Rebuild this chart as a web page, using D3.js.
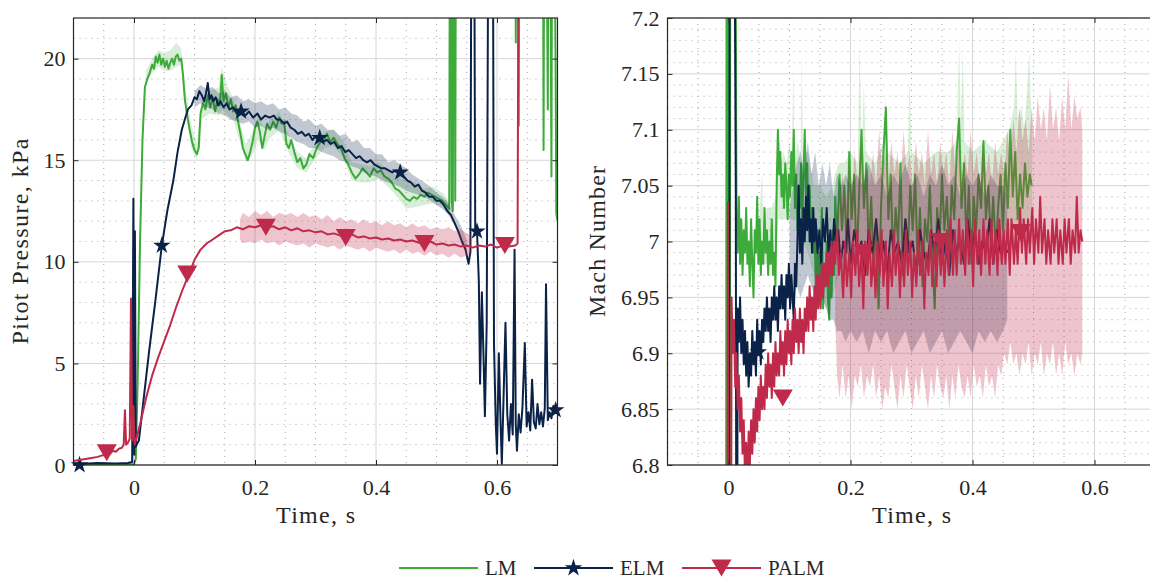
<!DOCTYPE html>
<html>
<head>
<meta charset="utf-8">
<script src="https://cdn.jsdelivr.net/npm/d3@7"></script>
<style>
  body { margin: 0; background: #fff; }
  svg { display: block; }
  svg text { font-family: "Liberation Serif", "Times New Roman", serif; fill: #262626; }
</style>
</head>
<body>
<svg id="chart" width="1150" height="581" font-family="Liberation Serif"></svg>
<script>
// ---- data (time in s) ----
const seriesNames = ['LM', 'ELM', 'PALM'];
const timeTicks = [0, 0.2, 0.4, 0.6];
const pitotTicks = [0, 5, 10, 15, 20];
const machTicks = [6.8, 6.85, 6.9, 6.95, 7, 7.05, 7.1, 7.15, 7.2];

// pitot pressure, kPa
const lmPitot = [[-0.1,0.02],[-0.05,0.02],[-0.01,0.03],[0.0,0.05],[0.003,0.3],[0.006,4],[0.010,11],[0.014,16],[0.018,18.6],[0.022,19.0],[0.026,19.3],[0.030,19.7],[0.033,19.5],[0.036,20.1],[0.039,19.8],[0.042,20.2],[0.045,19.7],[0.048,20.0],[0.051,19.6],[0.054,19.9],[0.057,19.5],[0.060,19.8],[0.063,20.0],[0.066,19.7],[0.069,20.1],[0.072,20.2],[0.075,19.9],[0.078,20.0],[0.081,19.2],[0.084,18.0],[0.088,17.2],[0.092,16.5],[0.096,15.9],[0.100,15.5],[0.104,15.3],[0.107,15.6],[0.110,17.3],[0.114,17.8],[0.118,17.5],[0.122,18.2],[0.126,17.6],[0.130,18.1],[0.134,17.4],[0.138,18.0],[0.142,17.7],[0.145,19.2],[0.148,17.9],[0.152,18.3],[0.156,17.6],[0.160,18.0],[0.164,17.4],[0.168,17.7],[0.172,16.9],[0.176,16.3],[0.180,15.6],[0.184,15.3],[0.188,15.0],[0.192,15.4],[0.196,15.9],[0.200,16.6],[0.204,16.9],[0.208,16.4],[0.212,15.6],[0.216,16.2],[0.220,16.8],[0.225,16.5],[0.230,16.9],[0.235,16.6],[0.240,17.1],[0.244,16.8],[0.248,16.9],[0.252,15.8],[0.256,15.6],[0.260,16.0],[0.265,15.4],[0.270,14.9],[0.275,15.1],[0.280,14.6],[0.285,14.8],[0.290,15.3],[0.296,15.1],[0.302,15.6],[0.308,15.9],[0.314,16.0],[0.319,16.3],[0.324,15.9],[0.330,16.1],[0.336,15.8],[0.342,15.6],[0.348,15.1],[0.354,14.8],[0.360,14.4],[0.366,14.1],[0.372,14.3],[0.378,14.6],[0.384,14.4],[0.390,14.2],[0.396,14.6],[0.402,14.4],[0.408,14.5],[0.414,14.2],[0.420,14.1],[0.426,13.9],[0.432,13.6],[0.438,13.5],[0.444,13.3],[0.450,13.1],[0.456,13.0],[0.462,13.2],[0.468,13.1],[0.474,13.3],[0.480,13.2],[0.486,13.4],[0.492,13.3],[0.498,13.2],[0.504,13.1],[0.510,13.0],[0.516,12.8],[0.521,12.6],[0.523,40],[0.525,12.9],[0.527,12.5],[0.529,40],[0.531,13.0],[0.533,40],[0.630,40],[0.631,20.8],[0.633,40],[0.636,16.7],[0.638,40],[0.675,40],[0.677,15.5],[0.679,40],[0.684,17.5],[0.686,40],[0.690,14.2],[0.692,40],[0.697,19],[0.698,12.4],[0.700,12.0]];
const lmPitotBand = [[0.02,18.8,19.4],[0.03,19.3,20.0],[0.04,19.6,20.4],[0.05,19.4,20.3],[0.06,19.4,20.4],[0.07,19.6,20.8],[0.078,19.7,20.5],[0.085,17.5,18.5],[0.095,15.6,16.7],[0.104,15.0,15.8],[0.112,17.0,18.0],[0.125,17.3,18.4],[0.14,17.2,18.6],[0.145,17.5,19.6],[0.155,17.2,18.6],[0.165,16.9,18.0],[0.175,15.9,16.9],[0.185,14.9,15.8],[0.195,15.2,16.3],[0.205,16.0,17.2],[0.215,15.5,16.6],[0.225,16.1,17.0],[0.24,16.5,17.4],[0.255,15.4,16.3],[0.27,14.6,15.4],[0.285,14.4,15.1],[0.30,15.1,15.9],[0.315,15.6,16.4],[0.33,15.7,16.5],[0.345,15.2,16.0],[0.36,14.0,14.9],[0.375,13.9,14.8],[0.39,13.9,14.7],[0.405,14.1,14.9],[0.42,13.7,14.5],[0.435,13.2,14.2],[0.45,12.6,14.0],[0.465,12.7,13.9],[0.48,12.8,13.6],[0.495,12.9,13.7],[0.51,12.7,13.4],[0.521,12.3,13.0]];

const elmPitot = [[-0.1,0.08],[-0.09,0.05],[-0.06,0.1],[-0.03,0.08],[-0.01,0.1],[-0.003,0.15],[-0.001,13.1],[0.0005,0.5],[0.0015,11.5],[0.003,0.9],[0.006,1.1],[0.008,1.2],[0.015,3.0],[0.025,5.6],[0.035,8.0],[0.046,10.8],[0.055,12.5],[0.065,14.0],[0.072,15.4],[0.079,16.5],[0.085,17.1],[0.089,17.5],[0.095,17.7],[0.1,18.1],[0.104,18.0],[0.108,18.4],[0.112,18.2],[0.116,17.9],[0.119,18.3],[0.122,18.8],[0.125,18.0],[0.128,18.2],[0.131,17.9],[0.135,18.1],[0.139,17.7],[0.143,17.9],[0.148,17.6],[0.153,17.8],[0.158,17.5],[0.164,17.6],[0.170,17.3],[0.177,17.4],[0.184,17.2],[0.19,17.4],[0.197,17.1],[0.204,17.3],[0.21,17.0],[0.217,17.2],[0.224,17.1],[0.231,17.2],[0.236,17.0],[0.242,17.0],[0.248,16.8],[0.253,16.9],[0.259,16.6],[0.265,16.5],[0.271,16.3],[0.277,16.4],[0.283,16.2],[0.289,16.3],[0.295,16.0],[0.301,16.2],[0.307,16.1],[0.313,15.9],[0.319,16.0],[0.325,15.8],[0.331,15.9],[0.337,15.6],[0.343,15.7],[0.349,15.4],[0.355,15.5],[0.361,15.3],[0.367,15.1],[0.373,15.2],[0.379,15.0],[0.385,14.9],[0.391,15.0],[0.397,14.8],[0.403,14.7],[0.409,14.6],[0.415,14.6],[0.421,14.5],[0.427,14.4],[0.433,14.5],[0.44,14.4],[0.446,14.2],[0.452,14.0],[0.458,13.9],[0.464,13.7],[0.470,13.8],[0.476,13.5],[0.482,13.4],[0.488,13.2],[0.494,13.2],[0.500,13.0],[0.506,13.0],[0.512,12.8],[0.518,12.5],[0.524,12.3],[0.530,11.9],[0.536,11.5],[0.542,11.0],[0.548,10.6],[0.553,9.9],[0.556,10.5],[0.558,30],[0.562,30],[0.564,11.5],[0.567,11.5],[0.570,9.0],[0.572,4.0],[0.575,8.5],[0.578,5.0],[0.580,2.4],[0.583,7.0],[0.586,30],[0.590,30],[0.593,30],[0.595,6.0],[0.598,2.0],[0.600,0.55],[0.603,5.5],[0.606,2.0],[0.608,0.06],[0.611,3.5],[0.614,7.0],[0.617,2.5],[0.620,1.2],[0.623,3.0],[0.626,1.5],[0.629,10.6],[0.631,2.0],[0.633,0.7],[0.636,2.5],[0.639,1.6],[0.642,2.8],[0.646,6.0],[0.649,1.9],[0.652,2.6],[0.655,1.7],[0.658,4.2],[0.661,2.1],[0.664,1.8],[0.667,3.0],[0.670,2.0],[0.673,2.6],[0.676,1.9],[0.679,2.8],[0.681,8.9],[0.684,2.2],[0.687,2.6],[0.690,2.3],[0.693,2.9],[0.697,2.7],[0.700,2.6]];
const elmPitotBand = [[0.1,17.6,18.4],[0.11,17.8,18.7],[0.12,17.6,18.5],[0.13,17.5,18.6],[0.14,17.3,18.3],[0.15,17.2,18.4],[0.16,17.0,18.1],[0.17,16.9,18.2],[0.18,16.8,17.9],[0.19,16.9,18.0],[0.2,16.6,17.8],[0.21,16.7,17.9],[0.22,16.5,17.7],[0.23,16.6,17.8],[0.24,16.4,17.5],[0.25,16.3,17.6],[0.26,16.1,17.3],[0.27,15.9,17.2],[0.28,15.8,16.9],[0.29,15.6,17.0],[0.3,15.6,16.7],[0.31,15.4,16.8],[0.32,15.3,16.5],[0.33,15.2,16.5],[0.34,15.0,16.2],[0.35,14.9,16.3],[0.36,14.7,15.9],[0.37,14.6,16.0],[0.38,14.4,15.6],[0.39,14.3,15.6],[0.40,14.2,15.3],[0.41,14.0,15.3],[0.42,13.9,14.9],[0.43,13.8,15.0],[0.44,13.7,14.8],[0.45,13.5,14.6],[0.46,13.4,14.3],[0.47,13.3,14.1],[0.48,13.2,13.9],[0.49,13.0,13.7],[0.50,12.8,13.4],[0.51,12.6,13.2],[0.52,12.3,12.9],[0.53,11.8,12.3],[0.54,11.1,11.8],[0.55,10.4,11.1]];

const palmPitot = [[-0.1,0.2],[-0.09,0.25],[-0.08,0.3],[-0.07,0.35],[-0.06,0.4],[-0.05,0.5],[-0.045,0.6],[-0.04,0.55],[-0.035,0.7],[-0.03,0.65],[-0.025,0.8],[-0.02,0.85],[-0.017,1.0],[-0.015,2.7],[-0.013,1.0],[-0.01,1.1],[-0.007,1.3],[-0.005,8.2],[-0.003,1.2],[-0.001,2.9],[0.001,1.0],[0.004,1.3],[0.01,2.0],[0.02,3.3],[0.03,4.4],[0.04,5.3],[0.05,6.1],[0.06,6.9],[0.07,7.8],[0.08,8.6],[0.088,9.2],[0.095,9.7],[0.1,10.1],[0.11,10.6],[0.12,10.9],[0.13,11.1],[0.14,11.3],[0.15,11.5],[0.16,11.55],[0.17,11.7],[0.18,11.6],[0.19,11.75],[0.2,11.7],[0.21,11.8],[0.22,11.7],[0.23,11.75],[0.24,11.6],[0.25,11.7],[0.26,11.55],[0.27,11.65],[0.28,11.5],[0.29,11.55],[0.3,11.45],[0.31,11.5],[0.32,11.35],[0.33,11.4],[0.34,11.3],[0.35,11.25],[0.36,11.35],[0.37,11.2],[0.38,11.25],[0.39,11.15],[0.40,11.2],[0.41,11.1],[0.42,11.15],[0.43,11.05],[0.44,11.1],[0.45,11.0],[0.46,11.05],[0.47,10.95],[0.48,10.9],[0.49,11.0],[0.50,10.85],[0.51,10.9],[0.52,10.8],[0.53,10.85],[0.54,10.75],[0.55,10.8],[0.56,10.7],[0.57,10.8],[0.58,10.75],[0.59,10.85],[0.60,10.7],[0.61,10.8],[0.62,10.75],[0.63,10.8],[0.634,10.9],[0.636,30]];
const palmPitotBand = [[0.175,11.1,12.1],[0.18,10.9,12.4],[0.19,11.0,12.2],[0.2,10.9,12.5],[0.21,11.1,12.3],[0.22,10.9,12.5],[0.23,11.0,12.2],[0.24,10.8,12.4],[0.25,11.0,12.3],[0.26,10.9,12.4],[0.27,10.8,12.2],[0.28,10.9,12.4],[0.29,10.7,12.2],[0.3,10.9,12.3],[0.31,10.8,12.1],[0.32,10.7,12.3],[0.33,10.8,12.0],[0.34,10.6,12.2],[0.35,10.8,12.0],[0.36,10.7,12.1],[0.37,10.6,11.9],[0.38,10.7,12.1],[0.39,10.5,11.9],[0.4,10.7,12.0],[0.41,10.6,11.8],[0.42,10.5,12.0],[0.43,10.6,11.8],[0.44,10.4,11.9],[0.45,10.6,11.7],[0.46,10.4,11.9],[0.47,10.5,11.7],[0.48,10.3,11.8],[0.49,10.5,11.6],[0.5,10.3,11.7],[0.51,10.4,11.6],[0.52,10.2,11.7],[0.53,10.4,11.5],[0.54,10.2,11.6],[0.55,10.3,11.4],[0.558,10.4,11.3]];

const elmPitotMarks = [[-0.09,0.0],[0.046,10.8],[0.177,17.4],[0.307,16.1],[0.44,14.4],[0.567,11.5],[0.697,2.7]];
const palmPitotMarks = [[-0.045,0.6],[0.088,9.4],[0.218,11.7],[0.35,11.2],[0.48,10.9],[0.613,10.8]];

// Mach number
const lmMach = [[-0.004,6.6],[-0.003,7.4],[-0.001,7.4],[0.0,6.6],[0.002,6.6],[0.003,7.4],[0.011,7.4],[0.013,7.03],[0.015,6.99],[0.017,7.04],[0.019,6.98],[0.021,7.02],[0.023,6.97],[0.025,7.01],[0.027,6.99],[0.029,7.03],[0.031,6.98],[0.033,7.0],[0.035,6.96],[0.037,7.02],[0.039,6.98],[0.041,6.95],[0.043,7.01],[0.045,6.99],[0.047,7.04],[0.049,6.98],[0.051,7.02],[0.053,6.97],[0.055,7.0],[0.057,6.98],[0.059,7.03],[0.061,6.99],[0.063,7.01],[0.065,6.97],[0.067,7.0],[0.069,6.98],[0.071,7.02],[0.073,6.97],[0.075,6.99],[0.077,6.96],[0.079,7.05],[0.081,7.1],[0.083,7.06],[0.085,7.08],[0.087,7.04],[0.089,7.06],[0.091,7.03],[0.093,7.07],[0.095,7.05],[0.097,7.02],[0.099,7.06],[0.101,7.04],[0.103,7.08],[0.105,7.05],[0.107,7.1],[0.109,7.03],[0.111,7.06],[0.113,7.01],[0.115,7.05],[0.117,7.03],[0.119,7.07],[0.121,7.02],[0.123,7.06],[0.125,7.1],[0.127,7.04],[0.129,7.07],[0.131,7.02],[0.133,7.05],[0.135,7.0],[0.137,7.03],[0.139,6.99],[0.141,7.02],[0.143,6.96],[0.145,7.01],[0.147,6.95],[0.149,6.99],[0.151,6.97],[0.153,7.03],[0.155,6.94],[0.157,6.98],[0.159,6.96],[0.161,7.0],[0.163,6.95],[0.165,6.93],[0.167,6.98],[0.169,6.95],[0.171,7.01],[0.173,6.97],[0.175,7.04],[0.178,7.0],[0.182,7.06],[0.186,7.01],[0.19,7.05],[0.194,6.99],[0.198,7.08],[0.202,7.02],[0.206,7.06],[0.21,6.98],[0.214,7.04],[0.218,7.1],[0.222,7.03],[0.226,7.07],[0.23,6.99],[0.234,7.04],[0.238,6.97],[0.242,7.02],[0.246,6.94],[0.25,7.03],[0.254,7.08],[0.258,7.12],[0.262,7.02],[0.266,7.06],[0.27,6.98],[0.274,7.03],[0.278,7.0],[0.282,7.07],[0.286,6.97],[0.29,7.02],[0.294,6.99],[0.298,7.05],[0.302,7.01],[0.306,7.06],[0.31,6.98],[0.314,7.03],[0.318,6.96],[0.322,7.02],[0.326,7.0],[0.33,7.05],[0.334,6.99],[0.338,6.94],[0.342,7.03],[0.346,7.0],[0.35,7.06],[0.354,7.01],[0.358,7.04],[0.362,6.99],[0.366,7.05],[0.37,7.02],[0.374,7.08],[0.378,7.11],[0.382,7.03],[0.386,7.07],[0.39,7.0],[0.394,7.05],[0.398,6.98],[0.402,7.04],[0.406,7.01],[0.41,7.06],[0.414,7.03],[0.418,7.09],[0.422,7.02],[0.426,7.05],[0.43,7.0],[0.434,7.04],[0.438,6.99],[0.442,7.03],[0.446,7.06],[0.45,7.01],[0.454,7.07],[0.458,7.03],[0.462,7.1],[0.466,7.04],[0.47,7.08],[0.474,7.02],[0.478,7.06],[0.482,7.03],[0.486,7.07],[0.49,7.04],[0.494,7.06],[0.497,7.05]];
const lmMachBand = [[0.05,6.98,7.02],[0.055,6.98,7.06],[0.057,6.98,7.02],[0.062,6.98,7.03],[0.07,6.98,7.03],[0.078,6.99,7.04],[0.082,7.02,7.1],[0.086,7.02,7.07],[0.09,7.02,7.08],[0.095,7.02,7.07],[0.1,7.02,7.09],[0.104,7.02,7.07],[0.106,7.02,7.16],[0.108,7.02,7.07],[0.114,7.02,7.09],[0.118,7.01,7.07],[0.12,7.0,7.17],[0.122,7.0,7.08],[0.13,6.99,7.08],[0.14,6.97,7.05],[0.15,6.95,7.05],[0.16,6.94,7.04],[0.17,6.95,7.05],[0.18,6.97,7.07],[0.19,6.98,7.07],[0.2,6.98,7.08],[0.212,6.98,7.07],[0.215,6.98,7.18],[0.218,6.98,7.08],[0.222,6.98,7.14],[0.225,6.98,7.08],[0.24,6.98,7.07],[0.255,6.98,7.09],[0.258,6.98,7.13],[0.261,6.98,7.08],[0.28,6.98,7.07],[0.294,6.98,7.08],[0.297,6.98,7.15],[0.3,6.98,7.08],[0.32,6.98,7.07],[0.34,6.98,7.08],[0.36,6.98,7.08],[0.374,6.98,7.09],[0.378,6.98,7.18],[0.381,6.98,7.1],[0.384,6.98,7.17],[0.387,6.98,7.09],[0.4,6.98,7.08],[0.42,6.98,7.09],[0.44,6.98,7.08],[0.46,6.99,7.1],[0.468,7.0,7.12],[0.471,7.0,7.17],[0.474,7.0,7.11],[0.48,7.0,7.12],[0.485,7.0,7.1],[0.49,7.0,7.14],[0.493,7.0,7.17],[0.496,7.01,7.12],[0.498,7.02,7.1]];

const elmMach = [[-0.001,6.6],[0.001,6.6],[0.002,7.4],[0.009,7.4],[0.011,7.16],[0.012,7.04],[0.013,6.6],[0.014,6.6],[0.015,6.94],[0.017,6.91],[0.019,6.95],[0.021,6.9],[0.023,6.93],[0.025,6.89],[0.027,6.92],[0.029,6.88],[0.031,6.91],[0.033,6.87],[0.035,6.9],[0.037,6.88],[0.039,6.92],[0.041,6.89],[0.043,6.91],[0.045,6.88],[0.047,6.93],[0.049,6.9],[0.051,6.92],[0.053,6.89],[0.055,6.93],[0.057,6.91],[0.059,6.94],[0.061,6.92],[0.063,6.95],[0.065,6.92],[0.067,6.94],[0.069,6.91],[0.071,6.95],[0.073,6.93],[0.075,6.96],[0.077,6.93],[0.079,6.95],[0.081,6.92],[0.083,6.96],[0.085,6.94],[0.087,6.97],[0.089,6.94],[0.091,6.96],[0.093,6.93],[0.095,6.97],[0.097,6.95],[0.099,6.98],[0.101,6.94],[0.103,6.97],[0.105,6.95],[0.107,6.93],[0.109,6.98],[0.111,6.96],[0.113,7.0],[0.115,7.05],[0.117,6.99],[0.119,7.02],[0.121,6.98],[0.123,7.03],[0.125,7.0],[0.127,7.04],[0.129,7.01],[0.131,7.05],[0.133,7.0],[0.135,7.02],[0.137,6.99],[0.139,7.03],[0.141,7.0],[0.143,7.02],[0.146,6.99],[0.149,7.01],[0.152,6.98],[0.155,7.02],[0.158,7.0],[0.161,7.03],[0.164,6.99],[0.167,7.01],[0.17,6.98],[0.173,7.02],[0.176,7.0],[0.18,7.01],[0.184,6.98],[0.188,7.0],[0.192,6.99],[0.196,7.02],[0.2,6.98],[0.206,7.01],[0.212,6.99],[0.218,7.0],[0.224,6.97],[0.23,7.01],[0.236,6.99],[0.242,7.02],[0.248,6.98],[0.254,7.0],[0.26,6.97],[0.266,7.01],[0.272,6.99],[0.278,7.0],[0.284,6.98],[0.29,7.02],[0.296,6.99],[0.302,7.0],[0.308,6.97],[0.314,7.01],[0.32,6.99],[0.326,6.98],[0.332,7.01],[0.338,6.99],[0.344,7.02],[0.35,6.98],[0.356,7.0],[0.362,6.97],[0.368,7.01],[0.374,6.99],[0.38,7.0],[0.386,6.98],[0.392,7.02],[0.398,6.99],[0.404,7.01],[0.41,6.98],[0.416,7.0],[0.422,6.99],[0.428,7.02],[0.434,6.98],[0.44,7.01],[0.446,6.99],[0.452,7.0],[0.457,6.99]];
const elmMachBand = [[0.1,6.95,7.03],[0.106,6.94,7.05],[0.112,6.96,7.07],[0.118,6.95,7.08],[0.124,6.96,7.06],[0.13,6.97,7.09],[0.136,6.96,7.06],[0.142,6.95,7.08],[0.148,6.94,7.05],[0.154,6.95,7.07],[0.16,6.94,7.05],[0.166,6.93,7.07],[0.172,6.93,7.04],[0.178,6.92,7.06],[0.185,6.92,7.05],[0.192,6.91,7.06],[0.2,6.92,7.05],[0.21,6.91,7.06],[0.22,6.92,7.05],[0.23,6.9,7.07],[0.24,6.92,7.05],[0.25,6.91,7.06],[0.26,6.92,7.04],[0.27,6.9,7.06],[0.28,6.91,7.05],[0.29,6.92,7.07],[0.3,6.9,7.05],[0.31,6.91,7.06],[0.32,6.92,7.04],[0.33,6.9,7.06],[0.34,6.91,7.05],[0.35,6.92,7.07],[0.36,6.9,7.05],[0.37,6.91,7.06],[0.38,6.92,7.04],[0.39,6.91,7.06],[0.4,6.9,7.05],[0.41,6.92,7.06],[0.42,6.91,7.04],[0.43,6.92,7.06],[0.44,6.91,7.05],[0.45,6.92,7.05],[0.457,6.93,7.04]];

const palmMach = [[-0.002,6.6],[-0.001,7.035],[0.0,6.6],[0.004,6.6],[0.005,6.95],[0.007,6.9],[0.009,6.93],[0.011,6.87],[0.013,6.9],[0.015,6.85],[0.017,6.88],[0.019,6.83],[0.021,6.86],[0.023,6.81],[0.025,6.84],[0.027,6.79],[0.029,6.82],[0.031,6.78],[0.033,6.83],[0.035,6.8],[0.037,6.84],[0.039,6.81],[0.041,6.85],[0.043,6.82],[0.045,6.86],[0.047,6.83],[0.049,6.87],[0.051,6.84],[0.053,6.88],[0.055,6.85],[0.057,6.87],[0.059,6.85],[0.061,6.89],[0.063,6.86],[0.065,6.9],[0.067,6.87],[0.069,6.89],[0.071,6.86],[0.073,6.9],[0.075,6.87],[0.077,6.91],[0.079,6.88],[0.081,6.9],[0.083,6.88],[0.085,6.92],[0.087,6.89],[0.089,6.91],[0.091,6.88],[0.093,6.92],[0.095,6.89],[0.097,6.93],[0.099,6.9],[0.101,6.92],[0.103,6.89],[0.105,6.93],[0.107,6.9],[0.109,6.94],[0.111,6.91],[0.113,6.93],[0.115,6.9],[0.117,6.94],[0.119,6.91],[0.121,6.93],[0.123,6.9],[0.125,6.94],[0.127,6.92],[0.129,6.95],[0.131,6.92],[0.133,6.96],[0.135,6.93],[0.137,6.95],[0.139,6.92],[0.141,6.96],[0.143,6.93],[0.145,6.97],[0.147,6.94],[0.149,6.97],[0.151,6.94],[0.153,6.98],[0.155,6.95],[0.157,6.98],[0.159,6.96],[0.161,6.99],[0.163,6.96],[0.165,6.99],[0.167,6.97],[0.169,7.0],[0.171,6.97],[0.173,7.0],[0.175,6.98],[0.178,7.01],[0.181,6.97],[0.184,6.99],[0.188,6.95],[0.191,7.0],[0.194,6.96],[0.198,6.99],[0.201,6.95],[0.204,7.0],[0.208,6.97],[0.211,7.01],[0.214,6.96],[0.218,6.99],[0.221,6.94],[0.224,7.0],[0.228,6.97],[0.231,7.01],[0.234,6.96],[0.238,6.99],[0.241,6.95],[0.244,7.0],[0.248,6.97],[0.251,7.01],[0.254,6.96],[0.258,7.0],[0.261,6.94],[0.264,6.99],[0.268,6.96],[0.271,7.01],[0.274,6.97],[0.278,7.0],[0.281,6.95],[0.284,6.99],[0.288,6.96],[0.291,7.01],[0.294,6.97],[0.298,7.0],[0.301,6.95],[0.304,6.99],[0.308,6.96],[0.311,7.01],[0.314,6.97],[0.318,7.0],[0.321,6.94],[0.324,6.99],[0.328,6.97],[0.331,7.01],[0.334,6.96],[0.338,7.0],[0.341,6.96],[0.344,7.01],[0.348,6.97],[0.351,7.0],[0.354,6.96],[0.358,7.01],[0.361,6.97],[0.364,7.02],[0.368,6.97],[0.371,7.01],[0.374,6.97],[0.378,7.02],[0.381,6.98],[0.384,7.01],[0.388,6.97],[0.391,7.02],[0.394,6.98],[0.398,7.01],[0.401,6.96],[0.404,7.02],[0.408,6.98],[0.411,7.01],[0.414,6.97],[0.418,7.02],[0.421,6.98],[0.424,7.01],[0.428,6.97],[0.431,7.02],[0.434,6.98],[0.438,7.01],[0.441,6.97],[0.444,7.02],[0.448,6.98],[0.451,7.01],[0.454,6.98],[0.458,7.02],[0.461,6.97],[0.464,7.02],[0.468,6.98],[0.471,7.01],[0.474,6.98],[0.478,7.03],[0.481,6.99],[0.484,7.02],[0.488,6.98],[0.491,7.02],[0.494,6.99],[0.498,7.03],[0.501,6.98],[0.504,7.02],[0.508,6.99],[0.511,7.04],[0.514,6.99],[0.518,7.02],[0.521,6.98],[0.524,7.01],[0.528,6.98],[0.531,7.02],[0.534,6.99],[0.538,7.02],[0.541,6.98],[0.544,7.01],[0.548,6.98],[0.551,7.02],[0.554,6.99],[0.558,7.02],[0.561,6.98],[0.564,7.01],[0.568,6.99],[0.571,7.04],[0.574,6.99],[0.577,7.01],[0.58,7.0]];
const palmMachBand = [[0.175,6.93,7.0],[0.178,6.88,7.02],[0.182,6.86,7.04],[0.187,6.89,7.06],[0.192,6.86,7.03],[0.197,6.88,7.07],[0.202,6.85,7.04],[0.207,6.88,7.08],[0.212,6.87,7.05],[0.217,6.89,7.09],[0.222,6.86,7.04],[0.227,6.88,7.07],[0.232,6.87,7.05],[0.237,6.89,7.08],[0.242,6.86,7.05],[0.247,6.88,7.1],[0.252,6.85,7.06],[0.257,6.87,7.08],[0.262,6.86,7.05],[0.267,6.89,7.09],[0.272,6.87,7.06],[0.277,6.85,7.08],[0.282,6.88,7.05],[0.287,6.86,7.1],[0.292,6.89,7.06],[0.297,6.87,7.08],[0.302,6.85,7.05],[0.307,6.88,7.09],[0.312,6.86,7.06],[0.317,6.89,7.08],[0.322,6.87,7.05],[0.327,6.85,7.1],[0.332,6.88,7.06],[0.337,6.86,7.08],[0.342,6.89,7.05],[0.347,6.87,7.09],[0.352,6.86,7.06],[0.357,6.88,7.08],[0.362,6.85,7.05],[0.367,6.88,7.1],[0.372,6.86,7.06],[0.377,6.89,7.09],[0.382,6.87,7.05],[0.387,6.86,7.08],[0.392,6.88,7.06],[0.397,6.86,7.1],[0.402,6.89,7.06],[0.407,6.87,7.08],[0.412,6.88,7.05],[0.417,6.86,7.09],[0.422,6.89,7.06],[0.427,6.87,7.08],[0.432,6.88,7.05],[0.437,6.86,7.09],[0.442,6.89,7.06],[0.447,6.88,7.08],[0.452,6.9,7.06],[0.457,6.89,7.1],[0.462,6.91,7.07],[0.467,6.89,7.11],[0.472,6.9,7.08],[0.477,6.88,7.12],[0.482,6.9,7.09],[0.487,6.89,7.11],[0.492,6.91,7.08],[0.497,6.88,7.12],[0.502,6.9,7.09],[0.507,6.89,7.13],[0.512,6.91,7.1],[0.517,6.88,7.12],[0.522,6.9,7.09],[0.527,6.89,7.14],[0.532,6.91,7.1],[0.537,6.88,7.12],[0.542,6.9,7.09],[0.547,6.88,7.13],[0.552,6.91,7.1],[0.557,6.89,7.15],[0.562,6.9,7.1],[0.567,6.88,7.13],[0.572,6.9,7.11],[0.577,6.89,7.12],[0.58,6.9,7.1]];

const elmMachMarks = [[0.049,6.901]];
const palmMachMarks = [[0.089,6.86],[0.221,6.99],[0.348,7.0],[0.479,7.008]];

// ---- styling ----
const colors = { LM: '#3dab3a', ELM: '#0a2248', PALM: '#c02a4a' };
const bandOpacity = { LM: 0.2, ELM: 0.25, PALM: 0.27 };
const tri = 'M-10,-8.5L10,-8.5L0,8.5Z';
const star = d3.symbol().type(d3.symbolStar).size(95)();
const markerPath = { ELM: star, PALM: tri };
const fontFamily = '"Liberation Serif", "Times New Roman", serif';

const svg = d3.select('#chart');
const defs = svg.append('defs');
const plotTop = 18, plotBottom = 465;

function drawPanel(p) {
  const x = d3.scaleLinear().domain([-0.1, 0.7]).range(p.xRange);
  const y = d3.scaleLinear().domain(p.yDomain).range([plotBottom, plotTop]);
  const [x0, x1] = p.xRange;
  const g = svg.append('g');

  defs.append('clipPath').attr('id', p.id + '-clip')
    .append('rect').attr('x', x0).attr('y', plotTop).attr('width', x1 - x0).attr('height', plotBottom - plotTop);

  const isMajor = (v, ticks) => ticks.some(t => Math.abs(t - v) < 1e-6);

  // minor grid
  const xMinor = d3.range(-0.05, 0.7, 0.05).filter(v => !isMajor(v, timeTicks));
  const yMinor = d3.range(p.yDomain[0] + p.minorStep, p.yDomain[1] - 1e-6, p.minorStep)
    .filter(v => !isMajor(v, p.yTicks));
  g.selectAll('.xminor').data(xMinor).enter().append('line')
    .attr('x1', d => x(d)).attr('x2', d => x(d)).attr('y1', plotTop).attr('y2', plotBottom)
    .attr('stroke', '#a8a8a8').attr('stroke-width', 1).attr('stroke-dasharray', '1,5');
  g.selectAll('.yminor').data(yMinor).enter().append('line')
    .attr('x1', x0).attr('x2', x1).attr('y1', d => y(d)).attr('y2', d => y(d))
    .attr('stroke', '#a8a8a8').attr('stroke-width', 1).attr('stroke-dasharray', '1,5');

  // major grid
  g.selectAll('.xmajor').data(timeTicks).enter().append('line')
    .attr('x1', d => x(d)).attr('x2', d => x(d)).attr('y1', plotTop).attr('y2', plotBottom)
    .attr('stroke', '#d6d6d6').attr('stroke-width', 1);
  g.selectAll('.ymajor').data(p.yTicks).enter().append('line')
    .attr('x1', x0).attr('x2', x1).attr('y1', d => y(d)).attr('y2', d => y(d))
    .attr('stroke', '#d6d6d6').attr('stroke-width', 1);

  // series: band, line (clipped), then markers (unclipped)
  const line = d3.line().x(d => x(d[0])).y(d => y(d[1]));
  const area = d3.area().x(d => x(d[0])).y0(d => y(d[1])).y1(d => y(d[2]));

  p.series.forEach(s => {
    const plot = g.append('g').attr('clip-path', 'url(#' + p.id + '-clip)');
    if (s.band) {
      plot.append('path').datum(s.band).attr('d', area)
        .attr('fill', colors[s.name]).attr('fill-opacity', bandOpacity[s.name]);
    }
    plot.append('path').datum(s.values).attr('d', line)
      .attr('fill', 'none').attr('stroke', colors[s.name]).attr('stroke-width', 2)
      .attr('stroke-linejoin', 'round');
    if (s.marks) {
      g.append('g').selectAll('path').data(s.marks).enter().append('path')
        .attr('d', markerPath[s.name])
        .attr('transform', d => 'translate(' + x(d[0]) + ',' + y(d[1]) + ')')
        .attr('fill', colors[s.name]);
    }
  });

  // axes (ticks inward on all four sides)
  const fmt = d => String(+d.toFixed(2));
  const ax = g.append('g');
  ax.append('g').attr('transform', 'translate(0,' + plotBottom + ')')
    .call(d3.axisBottom(x).tickValues(timeTicks).tickSize(-5).tickPadding(14.5).tickFormat(fmt));
  ax.append('g').attr('transform', 'translate(0,' + plotTop + ')')
    .call(d3.axisTop(x).tickValues(timeTicks).tickSize(-5).tickFormat(''));
  ax.append('g').attr('transform', 'translate(' + x0 + ',0)')
    .call(d3.axisLeft(y).tickValues(p.yTicks).tickSize(-5).tickPadding(8).tickFormat(fmt));
  ax.append('g').attr('transform', 'translate(' + x1 + ',0)')
    .call(d3.axisRight(y).tickValues(p.yTicks).tickSize(-5).tickFormat(''));
  ax.selectAll('.domain').remove();
  ax.selectAll('g').attr('font-family', fontFamily).attr('font-size', 22);
  ax.selectAll('.tick line').attr('stroke', '#262626');
  ax.selectAll('.tick text').attr('fill', '#262626');

  g.append('rect').attr('x', x0).attr('y', plotTop).attr('width', x1 - x0).attr('height', plotBottom - plotTop)
    .attr('fill', 'none').attr('stroke', '#262626').attr('stroke-width', 1.2);

  // titles
  g.append('text').attr('x', (x0 + x1) / 2).attr('y', 523)
    .attr('text-anchor', 'middle').attr('font-size', 24)
    .attr('textLength', 79).attr('lengthAdjust', 'spacing').text('Time, s');
  g.append('text').attr('transform', 'translate(' + p.yTitleX + ',' + ((plotTop + plotBottom) / 2) + ') rotate(-90)')
    .attr('text-anchor', 'middle').attr('font-size', 24)
    .attr('textLength', p.yTitleLength).attr('lengthAdjust', 'spacing').text(p.yTitle);
}

drawPanel({
  id: 'pitot', xRange: [73.5, 557.5], yDomain: [0, 22], yTicks: pitotTicks, minorStep: 1,
  yTitle: 'Pitot Pressure, kPa', yTitleX: 28, yTitleLength: 206,
  series: [
    { name: 'LM', values: lmPitot, band: lmPitotBand },
    { name: 'ELM', values: elmPitot, band: elmPitotBand, marks: elmPitotMarks },
    { name: 'PALM', values: palmPitot, band: palmPitotBand, marks: palmPitotMarks }
  ]
});

drawPanel({
  id: 'mach', xRange: [667.5, 1155.5], yDomain: [6.8, 7.2], yTicks: machTicks, minorStep: 0.01,
  yTitle: 'Mach Number', yTitleX: 605, yTitleLength: 151,
  series: [
    { name: 'LM', values: lmMach, band: lmMachBand },
    { name: 'ELM', values: elmMach, band: elmMachBand, marks: elmMachMarks },
    { name: 'PALM', values: palmMach, band: palmMachBand, marks: palmMachMarks }
  ]
});

// legend: line start for each entry, text follows the line
const legendX = [399, 534, 682];
const legend = svg.append('g').attr('transform', 'translate(0,568)');
seriesNames.forEach((name, i) => {
  const lx = legendX[i];
  const item = legend.append('g');
  item.append('line').attr('x1', lx).attr('x2', lx + 79).attr('y1', 0).attr('y2', 0)
    .attr('stroke', colors[name]).attr('stroke-width', 2);
  if (markerPath[name]) {
    item.append('path').attr('d', markerPath[name])
      .attr('transform', 'translate(' + (lx + 39.5) + ',0)').attr('fill', colors[name]);
  }
  item.append('text').attr('x', lx + 86).attr('y', 7).attr('font-size', 21).text(name);
});
</script>
</body>
</html>
